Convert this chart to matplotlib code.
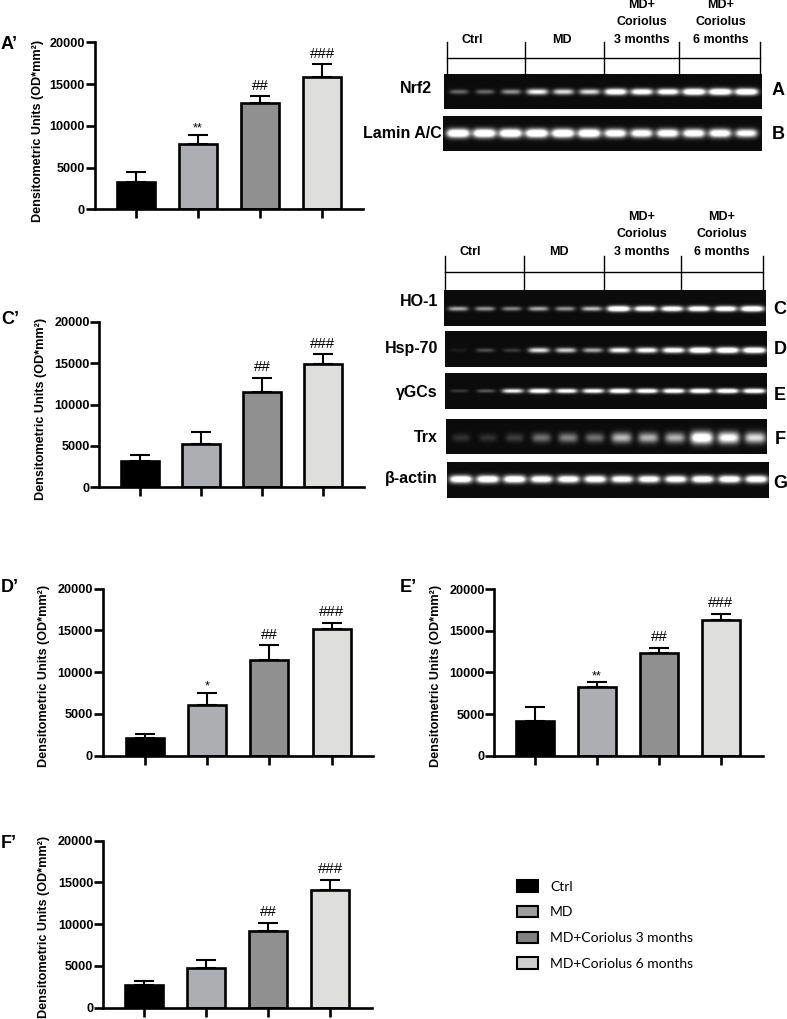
import numpy as np
import matplotlib
matplotlib.use("Agg")
import matplotlib.pyplot as plt
from matplotlib.patches import Patch

W, H = 787, 1019
SANS = ["Liberation Sans", "DejaVu Sans"]
plt.rcParams["font.family"] = SANS

# ---------- data ----------
groups = ["Ctrl", "MD", "MD+Coriolus 3 months", "MD+Coriolus 6 months"]
colors = ["#000000", "#adaeb1", "#909090", "#dededc"]
legend_colors = ["#000000", "#9d9da1", "#818181", "#cfcfcf"]
ticks_y = [0, 5000, 10000, 15000, 20000]

a_mean = [3300, 7800, 12700, 15900]
a_top = [4450, 8950, 13550, 17350]
a_sig = ["", "**", "##", "###"]
c_mean = [3200, 5250, 11450, 14900]
c_top = [3900, 6650, 13200, 16050]
c_sig = ["", "", "##", "###"]
d_mean = [2150, 6100, 11500, 15200]
d_top = [2650, 7500, 13200, 15950]
d_sig = ["", "*", "##", "###"]
e_mean = [4200, 8300, 12350, 16300]
e_top = [5800, 8800, 12950, 17000]
e_sig = ["", "**", "##", "###"]
f_mean = [2750, 4700, 9200, 14100]
f_top = [3250, 5700, 10200, 15300]
f_sig = ["", "", "##", "###"]

nrf2 = [.36, .36, .48, .75, .68, .68, .92, .88, .88, 1, 1, 1]
lamin = [1, 1, 1, 1, 1, 1, .92, .9, .92, .92, .92, .85]
ho1 = [.55, .5, .45, .55, .5, .6, 1, .9, .9, .93, .93, 1]
hsp70 = [.1, .28, .22, .7, .65, .55, .78, .82, .88, 1, 1, 1]
ggcs = [.22, .32, .75, .88, .82, .82, .92, .88, .88, .92, .92, .92]
trx = [.18, .18, .22, .38, .43, .38, .58, .56, .56, .9, .8, .68]
actin = [.95, .95, .95, .9, .9, .9, .88, .88, .88, .92, .92, .92]

fig = plt.figure(figsize=(W / 100, H / 100), dpi=100)
ov = fig.add_axes([0, 0, 1, 1], zorder=0)
ov.set_xlim(0, W)
ov.set_ylim(H, 0)
ov.axis("off")


def bar_panel(left, right, top, bottom, c0, pitch, mean, upper, sig, lab_x, lab_y):
    ax = fig.add_axes([left / W, 1 - bottom / H, (right - left) / W, (bottom - top) / H], zorder=2)
    ax.patch.set_alpha(0)
    xs = np.arange(4)
    ax.set_xlim((left - c0) / pitch, (right - c0) / pitch)
    ax.set_ylim(0, 20000)
    err = np.array(upper) - np.array(mean)
    ax.errorbar(xs, mean, yerr=[np.zeros(4), err], fmt="none", ecolor="black",
                elinewidth=1.5, capsize=7.2, capthick=1.5, zorder=2)
    ax.bar(xs, mean, width=38 / pitch, color=colors, edgecolor="black", linewidth=1.9, zorder=3)
    for s in ["top", "right"]:
        ax.spines[s].set_visible(False)
    for s in ["left", "bottom"]:
        ax.spines[s].set_linewidth(1.9)
        ax.spines[s].set_zorder(4)
    ax.set_xticks(xs)
    ax.set_xticklabels([])
    ax.set_yticks(ticks_y)
    ax.set_yticklabels([str(t) for t in ticks_y], fontsize=9.1, fontweight="bold")
    ax.tick_params(axis="both", width=1.9, length=6.2)
    ax.tick_params(axis="y", pad=0.6)
    ax.set_ylabel("Densitometric Units (OD*mm²)", fontsize=9.1, fontweight="bold", va="center")
    ax.yaxis.set_label_coords((lab_x - left) / (right - left), (bottom - lab_y) / (bottom - top))
    for x, u, s in zip(xs, upper, sig):
        if s.startswith("#"):
            ax.annotate(s, (x, u), xytext=(0, 7.6), textcoords="offset points",
                        ha="center", va="center", fontsize=10.9)
        elif s:
            ax.annotate(s, (x, u), xytext=(0, 4.6), textcoords="offset points",
                        ha="center", va="center", fontsize=9)
    return ax


bar_panel(94.5, 363, 42.3, 209.3, 136, 62, a_mean, a_top, a_sig, 38, 131)
bar_panel(99.5, 364, 321.7, 487.3, 140, 61, c_mean, c_top, c_sig, 41, 409)
bar_panel(102.5, 373, 588.7, 755.7, 145, 62.2, d_mean, d_top, d_sig, 44, 676)
bar_panel(494.3, 762.7, 589, 755.7, 535, 62, e_mean, e_top, e_sig, 436, 676)
bar_panel(102.7, 371.7, 840.7, 1007.7, 144, 62.1, f_mean, f_top, f_sig, 44, 927)

for txt, x, y in [("A’", 1, 44), ("C’", 1, 319), ("D’", 1, 587), ("E’", 400, 587), ("F’", 1, 843)]:
    ov.text(x, y, txt, fontsize=13, fontweight="bold", ha="left", va="center")


def blot(left, right, top, bottom, levels, band_y, first, last, half_w, sigma):
    """Gel strip: one glowing band per lane, strength taken from `levels`."""
    px_x = np.arange(left, right, 0.5)
    px_y = np.arange(top, bottom, 0.5)
    xx, yy = np.meshgrid(px_x, px_y)
    img = np.full(xx.shape, 0.045)
    for cx, lev in zip(np.linspace(first, last, len(levels)), levels):
        w = half_w * (0.72 + 0.28 * lev)
        s = sigma * (0.65 + 0.5 * lev)
        core = np.exp(-((xx - cx) / w) ** 4) * np.exp(-((yy - band_y) / s) ** 2)
        img += lev ** 1.3 * core * 1.4
    ov.imshow(np.clip(img, 0, 1), cmap="gray", vmin=0, vmax=1, extent=(left, right, bottom, top),
              aspect="auto", interpolation="bilinear", zorder=1)


blot(444.3, 761.7, 74.7, 109, nrf2, 92, 459, 746, 11.5, 2.8)
blot(443, 761.7, 116, 151, lamin, 133, 458, 746, 11.5, 3.8)
blot(444, 765.7, 290, 325.7, ho1, 308.5, 458, 752, 11.5, 2.4)
blot(445, 766.7, 331, 366.7, hsp70, 350, 458, 754, 11.5, 2.5)
blot(445, 766.7, 373.3, 409, ggcs, 391, 459, 754, 11.5, 2.1)
blot(446, 767, 419, 454, trx, 437.5, 461, 755, 11.5, 5.5)
blot(447.3, 768.7, 462.3, 497.7, actin, 479, 461, 756, 11.5, 3.3)
ov.set_xlim(0, W)
ov.set_ylim(H, 0)

for txt, x, y in [("Nrf2", 416, 88), ("Lamin A/C", 402, 133)]:
    ov.text(x, y, txt, fontsize=11.5, fontweight="bold", ha="center", va="center")
for txt, y in [("HO-1", 302), ("Hsp-70", 349), ("γGCs", 392), ("Trx", 437), ("β-actin", 478)]:
    ov.text(438, y, txt, fontsize=11.5, fontweight="bold", ha="right", va="center")
for txt, x, y in [("A", 778, 90), ("B", 778, 134), ("C", 780, 309), ("D", 780, 349),
                  ("E", 780, 395), ("F", 780, 439), ("G", 780, 483)]:
    ov.text(x, y, txt, fontsize=13, fontweight="bold", ha="center", va="center")


def header(ticks, hy, y0, y1, cx, ly):
    ov.plot([ticks[0], ticks[-1]], [hy, hy], color="black", lw=1.0, zorder=2)
    for t in ticks:
        ov.plot([t, t], [y0, y1], color="black", lw=1.0, zorder=2)
    kw = dict(fontsize=9, fontweight="bold", ha="center", va="center")
    ov.text(cx[0], ly[2], "Ctrl", **kw)
    ov.text(cx[1], ly[2], "MD", **kw)
    for c, label in ((cx[2], "3 months"), (cx[3], "6 months")):
        for y, t in zip(ly, ("MD+", "Coriolus", label)):
            ov.text(c, y, t, **kw)


header([447.3, 525, 603.7, 679, 759.7], 58.3, 42.3, 74.7,
       [472.7, 561.7, 641.7, 720.7], [4.5, 22, 40])
header([445, 524, 604, 681, 762.7], 272.3, 255.7, 290,
       [470.7, 559.3, 641.7, 722], [216.7, 234, 251.7])

handles = [Patch(facecolor=c, edgecolor="black", linewidth=1.5) for c in legend_colors]
fs = 10
fig.legend(handles, groups, loc="upper left", bbox_to_anchor=(517.3 / W, 1 - 880 / H),
           frameon=False, borderpad=0, borderaxespad=0,
           handlelength=21 / (fs * 100 / 72), handleheight=12.7 / (fs * 100 / 72),
           handletextpad=0.86, labelspacing=0.95,
           prop={"family": "Lato", "size": fs})

fig.savefig("out.png", dpi=100)
